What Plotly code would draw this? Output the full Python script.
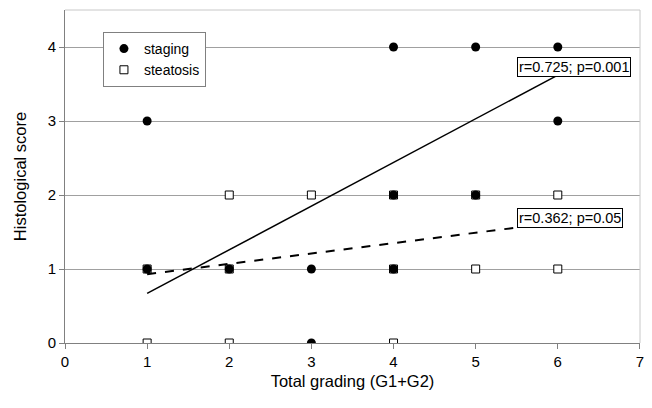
import plotly.graph_objects as go

# Data
staging_x = [1, 1, 2, 3, 3, 4, 4, 4, 5, 5, 6, 6]
staging_y = [3, 1, 1, 1, 0, 4, 2, 1, 4, 2, 4, 3]
steatosis_x = [1, 1, 2, 2, 2, 3, 4, 4, 4, 5, 5, 6, 6]
steatosis_y = [1, 0, 2, 1, 0, 2, 2, 1, 0, 2, 1, 2, 1]
trend_x = [1, 6]
trend_staging = [0.67, 3.62]
trend_steatosis = [0.93, 1.63]
label_staging = "r=0.725; p=0.001"
label_steatosis = "r=0.362; p=0.05"
x_ticks = [0, 1, 2, 3, 4, 5, 6, 7]
y_ticks = [0, 1, 2, 3, 4]

font_family = "Liberation Sans, Arial, sans-serif"

fig = go.Figure()
fig.add_trace(go.Scatter(
    x=steatosis_x, y=steatosis_y, mode="markers", name="steatosis",
    legendrank=2,
    marker=dict(symbol="square", size=8, color="white",
                line=dict(color="black", width=1)),
))
fig.add_trace(go.Scatter(
    x=staging_x, y=staging_y, mode="markers", name="staging",
    legendrank=1,
    marker=dict(symbol="circle", size=9, color="black",
                line=dict(color="black", width=0)),
))
fig.add_trace(go.Scatter(
    x=trend_x, y=trend_staging, mode="lines", showlegend=False,
    line=dict(color="black", width=1.5),
))
fig.add_trace(go.Scatter(
    x=trend_x, y=trend_steatosis, mode="lines", showlegend=False,
    line=dict(color="black", width=2, dash="dash"),
))

fig.add_annotation(x=6.2, y=3.73, text=label_staging, showarrow=False,
                   bgcolor="white", bordercolor="black", borderwidth=1,
                   borderpad=1, font=dict(size=14.5, color="black", family=font_family))
fig.add_annotation(x=6.15, y=1.69, text=label_steatosis, showarrow=False,
                   bgcolor="white", bordercolor="black", borderwidth=1,
                   borderpad=1, font=dict(size=14.5, color="black", family=font_family))

# top/right frame
fig.add_shape(type="line", xref="paper", yref="paper", x0=0, x1=1, y0=1, y1=1,
              line=dict(color="#c8c8c8", width=1))
fig.add_shape(type="line", xref="paper", yref="paper", x0=1, x1=1, y0=0, y1=1,
              line=dict(color="#c8c8c8", width=1))

fig.update_layout(
    width=652, height=408,
    margin=dict(l=65, r=12, t=10, b=65),
    paper_bgcolor="white", plot_bgcolor="white",
    font=dict(family=font_family, size=15, color="black"),
    showlegend=True,
    legend=dict(x=0.066, y=0.934, xanchor="left", yanchor="top",
                bordercolor="#808080", borderwidth=1, bgcolor="white",
                font=dict(size=14), tracegroupgap=0, itemwidth=30),
    xaxis=dict(range=[0, 7.001], tickvals=x_ticks, showgrid=False, zeroline=False,
               automargin=False,
               showline=True, linecolor="#808080", linewidth=1,
               ticks="outside", ticklen=5, tickcolor="#808080",
               tickfont=dict(size=15),
               title=dict(text="Total grading (G1+G2)", font=dict(size=16.5), standoff=6)),
    yaxis=dict(range=[0, 4.5], tickvals=y_ticks, showgrid=True, gridcolor="#a0a0a0",
               gridwidth=1, zeroline=False, automargin=False,
               showline=True, linecolor="#808080", linewidth=1,
               ticks="outside", ticklen=5, tickcolor="#808080",
               tickfont=dict(size=15),
               title=dict(text="Histological score", font=dict(size=16.5), standoff=16)),
)

fig.write_html("out.html",
               config={"displayModeBar": False},
               post_script="document.body.style.margin='0';document.body.style.overflow='hidden';")
